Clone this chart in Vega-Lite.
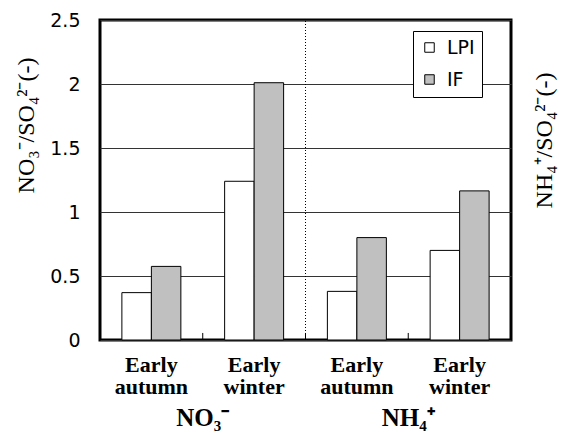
{
  "$schema": "https://vega.github.io/schema/vega-lite/v6.json",
  "width": 411,
  "height": 320,
  "autosize": {"type": "none"},
  "padding": {"left": 100, "top": 20, "right": 50, "bottom": 94},
  "background": "white",
  "config": {
    "view": {"stroke": "black", "strokeWidth": 3},
    "axis": {"labelColor": "black", "titleColor": "black"}
  },
  "layer": [
    {
      "layer": [
        {
          "data": {
            "values": [
              {"key": "NO₃⁻ Early autumn", "method": "LPI", "value": 0.37},
              {"key": "NO₃⁻ Early autumn", "method": "IF", "value": 0.575},
              {"key": "NO₃⁻ Early winter", "method": "LPI", "value": 1.24},
              {"key": "NO₃⁻ Early winter", "method": "IF", "value": 2.01},
              {"key": "NH₄⁺ Early autumn", "method": "LPI", "value": 0.38},
              {"key": "NH₄⁺ Early autumn", "method": "IF", "value": 0.80},
              {"key": "NH₄⁺ Early winter", "method": "LPI", "value": 0.70},
              {"key": "NH₄⁺ Early winter", "method": "IF", "value": 1.165}
            ]
          },
          "mark": {"type": "bar", "stroke": "black", "strokeWidth": 1},
          "encoding": {
            "x": {
              "field": "key",
              "type": "nominal",
              "sort": null,
              "scale": {"paddingInner": 0.426, "paddingOuter": 0.213},
              "axis": {
                "title": null,
                "labelAngle": 0,
                "labelExpr": "isString(datum.value) ? split(substring(datum.value, 5), ' ') : ''",
                "labelFont": "Liberation Serif",
                "labelFontWeight": "bold",
                "labelFontSize": 22,
                "labelLineHeight": 22,
                "labelPadding": 14,
                "domain": false,
                "ticks": false,
                "grid": false
              }
            },
            "xOffset": {"field": "method", "type": "nominal", "sort": ["LPI", "IF"], "scale": {"paddingInner": 0, "paddingOuter": 0}},
            "y": {
              "field": "value",
              "type": "quantitative",
              "scale": {"domain": [0, 2.5], "nice": false},
              "axis": {
                "values": [0, 0.5, 1, 1.5, 2, 2.5],
                "format": "~g",
                "labelFont": "DejaVu Sans",
                "labelFontSize": 19,
                "labelPadding": 20,
                "ticks": false,
                "domain": false,
                "grid": true,
                "gridColor": "#333333",
                "gridWidth": 1,
                "title": "NO₃⁻/SO₄²⁻(-)",
                "titleFont": "Liberation Serif",
                "titleFontWeight": "normal",
                "titleFontSize": 24,
                "titleX": -74,
                "titleY": 105,
                "titleAlign": "center",
                "titleBaseline": "middle"
              }
            },
            "color": {
              "field": "method",
              "type": "nominal",
              "sort": ["LPI", "IF"],
              "scale": {"domain": ["LPI", "IF"], "range": ["white", "#C0C0C0"]},
              "legend": {
                "title": null,
                "orient": "none",
                "legendX": 313,
                "legendY": 11,
                "fillColor": "white",
                "strokeColor": "black",
                "padding": 7,
                "symbolType": "square",
                "symbolSize": 90,
                "symbolStrokeColor": "black",
                "symbolStrokeWidth": 1,
                "labelFont": "DejaVu Sans",
                "labelFontSize": 19,
                "labelOffset": 8,
                "rowPadding": 12
              }
            }
          }
        },
        {
          "data": {
            "values": [
              {"key": "NO₃⁻ Early autumn"},
              {"key": "NO₃⁻ Early winter"},
              {"key": "NH₄⁺ Early autumn"}
            ]
          },
          "mark": {"type": "rule", "color": "black", "strokeWidth": 1},
          "encoding": {
            "x": {"field": "key", "type": "nominal", "sort": null, "bandPosition": 1.371},
            "y": {"datum": 0, "type": "quantitative"},
            "y2": {"datum": 0.055}
          }
        }
      ]
    },
    {
      "data": {"values": [{"ion": "NO₃⁻"}]},
      "mark": {"type": "rule", "color": "black", "strokeWidth": 1, "strokeDash": [1, 2]},
      "encoding": {
        "x": {
          "field": "ion",
          "type": "nominal",
          "bandPosition": 1,
          "scale": {"domain": ["NO₃⁻", "NH₄⁺"], "paddingInner": 0, "paddingOuter": 0},
          "axis": {
            "orient": "bottom",
            "title": null,
            "labelAngle": 0,
            "offset": 61,
            "labelPadding": 4,
            "labelFont": "Liberation Serif",
            "labelFontWeight": "bold",
            "labelFontSize": 25,
            "ticks": false,
            "domain": false,
            "grid": false
          }
        },
        "y": {
          "datum": 0,
          "type": "quantitative",
          "scale": {"domain": [0, 2.5], "nice": false},
          "axis": {
            "orient": "right",
            "labels": false,
            "ticks": false,
            "domain": false,
            "grid": false,
            "title": "NH₄⁺/SO₄²⁻(-)",
            "titleFont": "Liberation Serif",
            "titleFontWeight": "normal",
            "titleFontSize": 24,
            "titleAngle": -90,
            "titleX": 33,
            "titleY": 120,
            "titleAlign": "center",
            "titleBaseline": "middle"
          }
        },
        "y2": {"datum": 2.5}
      }
    }
  ],
  "resolve": {"scale": {"x": "independent", "y": "independent"}, "axis": {"x": "independent", "y": "independent"}}
}
